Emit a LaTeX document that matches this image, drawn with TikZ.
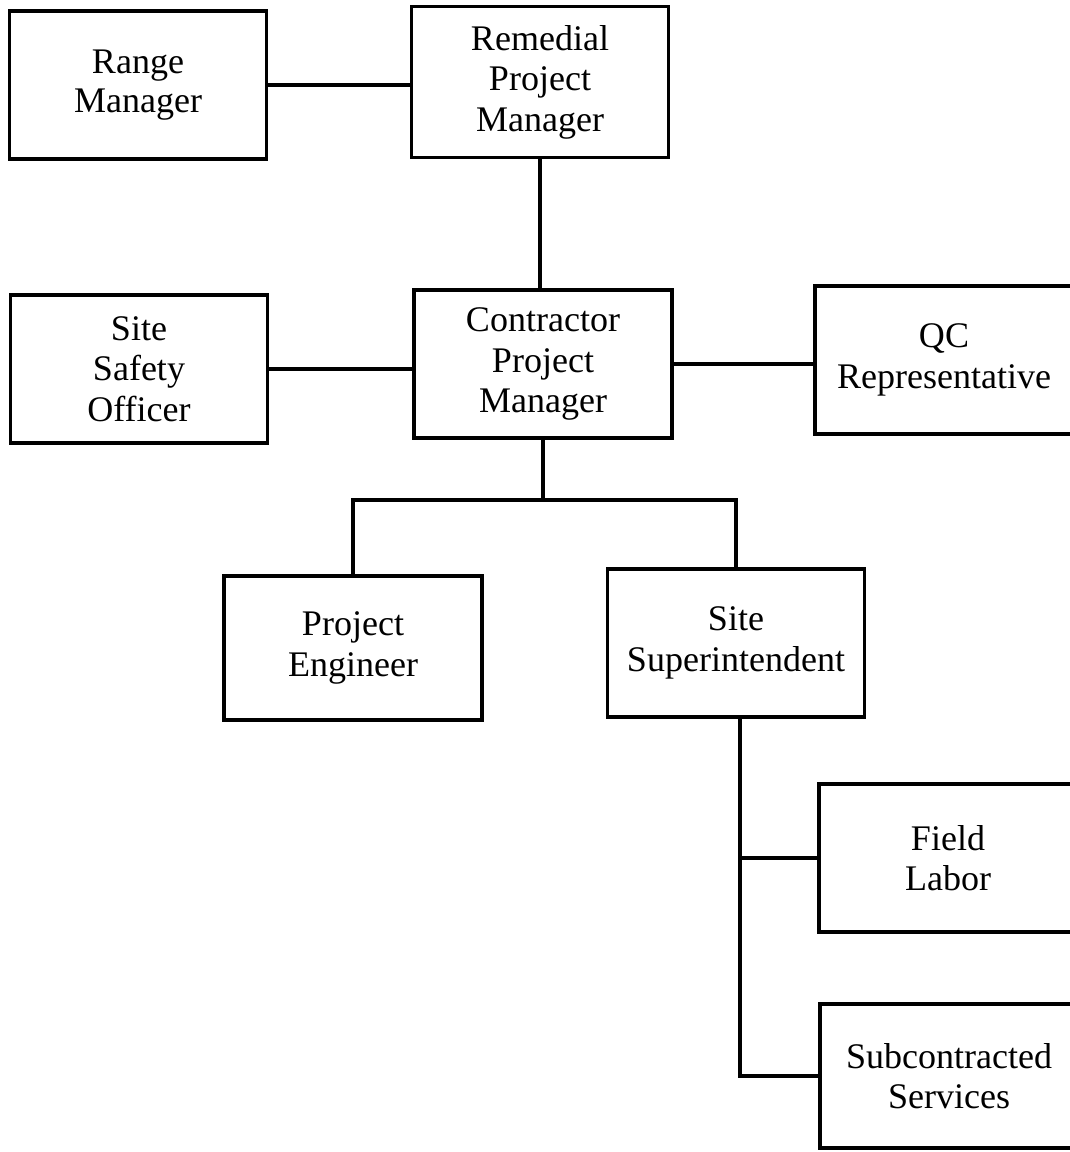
\documentclass[tikz,border=0pt]{standalone}
\usepackage{fontspec}
\setmainfont{Liberation Serif}
\usetikzlibrary{positioning}

\begin{document}
\begin{tikzpicture}[x=0.02cm,y=-0.02cm,every node/.style={font=\fontsize{20.5}{23}\selectfont}]
\tikzstyle{post}=[draw,line width=2.2pt,minimum width=5.14cm,minimum height=2.96cm,align=center,inner sep=2pt]
\tikzstyle{link}=[line width=2.2pt]
\clip (0,0) rectangle (1070,1152);
\fill[white] (0,0) rectangle (1070,1152);
\node[post] (range) at (138,85) {\raisebox{-4pt}{\shortstack{Range\\[1pt] Manager}}};
\node[post,minimum height=3.02cm] (remedial) at (540,82) {Remedial\\ Project\\ Manager};
\node[post] (safety) at (139,369) {Site\\ Safety\\ Officer};
\node[post,minimum width=5.16cm] (contractor) at (543,364) {Contractor\\ Project\\ Manager};
\node[post,minimum width=5.16cm] (qc) at (944,360) {QC\\ Representative};
\node[post,minimum width=5.16cm,minimum height=2.88cm] (engineer) at (353,648) {Project\\ Engineer};
\node[post] (superint) at (736,643) {Site\\ Superintendent};
\node[post,minimum width=5.16cm] (field) at (948,858) {Field\\ Labor};
\node[post,minimum width=5.16cm,minimum height=2.88cm] (subcon) at (949,1076) {Subcontracted\\ Services};
\coordinate (cpmjoint) at (543,500);
\coordinate (spine) at (740,1076);
\draw[link] (range.east) -- (range.east -| remedial.west);
\draw[link] (remedial.south) -- (remedial.south |- contractor.north);
\draw[link] (safety.east) -- (safety.east -| contractor.west);
\draw[link] (contractor.east) -- (contractor.east -| qc.west);
\draw[link] (contractor.south) -- (cpmjoint);
\draw[link] (engineer.north) |- (cpmjoint) -| (superint.north);
\draw[link] (superint.south -| spine) -- (spine) -- (subcon.west);
\draw[link] (field.west -| spine) -- (field.west);
\end{tikzpicture}
\end{document}
